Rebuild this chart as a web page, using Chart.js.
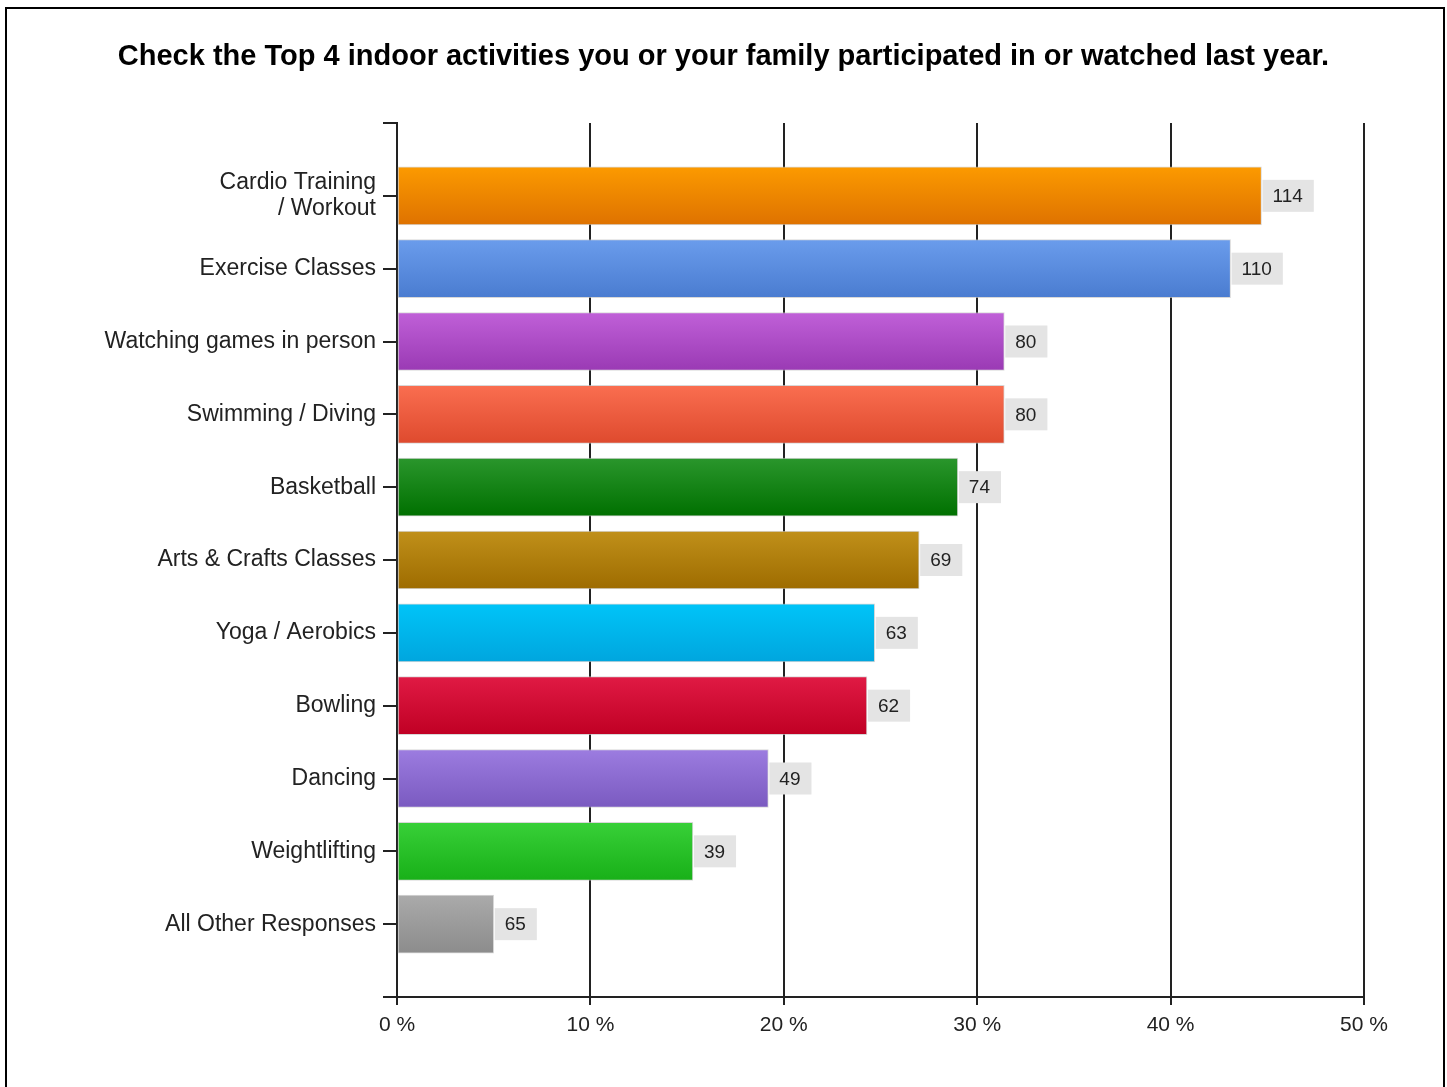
<!DOCTYPE html>
<html>
<head>
<meta charset="utf-8">
<title>Top 4 indoor activities</title>
<script src="https://cdn.jsdelivr.net/npm/chart.js@4"></script>
<style>
    html, body { margin: 0; padding: 0; background: #fff; overflow: hidden; }
    #wrap { position: relative; width: 1447px; height: 1087px; }
</style>
</head>
<body>
<div id="wrap"><canvas id="barChart" width="1447" height="1087"></canvas></div>
<script>
// Categories, top to bottom
const categories = [
    ['Cardio Training', '/ Workout'],
    'Exercise Classes',
    'Watching games in person',
    'Swimming / Diving',
    'Basketball',
    'Arts & Crafts Classes',
    'Yoga / Aerobics',
    'Bowling',
    'Dancing',
    'Weightlifting',
    'All Other Responses'
];

// Number of responses (shown in the grey boxes)
const counts = [114, 110, 80, 80, 74, 69, 63, 62, 49, 39, 65];

// Share of respondents in percent (bar length)
const percents = [44.7, 43.1, 31.4, 31.4, 29.0, 27.0, 24.7, 24.3, 19.2, 15.3, 5.0];

// x axis ticks
const xTicks = [0, 10, 20, 30, 40, 50];

// gradient colours, top / bottom of each bar
const topColors = ['#fc9a00', '#6a9cec', '#c060d8', '#fa6e50', '#2a962c', '#c0901a',
                   '#00c4f8', '#e01a44', '#9c7ce0', '#38d038', '#aaaaaa'];
const bottomColors = ['#de7200', '#4a7cd0', '#9a3ab4', '#de4a2e', '#007000', '#9e6c00',
                      '#00a6de', '#c00024', '#7a5ac0', '#18b018', '#8c8c8c'];

const BAR_H = 58;

// Gradient per bar, placed with the y scale
function barGradient(context) {
    const chart = context.chart;
    const i = context.dataIndex;
    const yScale = chart.scales.y;
    if (!yScale || i === undefined) return topColors[0];
    const yc = yScale.getPixelForValue(i);
    if (!isFinite(yc)) return topColors[i];
    const g = chart.ctx.createLinearGradient(0, yc - BAR_H / 2, 0, yc + BAR_H / 2);
    g.addColorStop(0, topColors[i]);
    g.addColorStop(1, bottomColors[i]);
    return g;
}

// Outer frame
const framePlugin = {
    id: 'frame',
    beforeDraw(chart) {
        const ctx = chart.ctx;
        ctx.save();
        ctx.fillStyle = '#fff';
        ctx.fillRect(0, 0, chart.width, chart.height);
        ctx.strokeStyle = '#000';
        ctx.lineWidth = 2;
        ctx.strokeRect(6, 8, 1438, 1200);
        ctx.restore();
    }
};

// Grey value boxes at the end of each bar
const valueBoxPlugin = {
    id: 'valueBoxes',
    afterDatasetsDraw(chart) {
        const ctx = chart.ctx;
        const meta = chart.getDatasetMeta(0);
        ctx.save();
        ctx.font = '19px "Liberation Sans", Arial, sans-serif';
        ctx.textBaseline = 'middle';
        ctx.textAlign = 'left';
        meta.data.forEach((bar, i) => {
            const txt = String(counts[i]);
            const w = ctx.measureText(txt).width + 21;
            const x = bar.x + 1;
            ctx.fillStyle = '#e4e4e4';
            ctx.fillRect(x, bar.y - 16, w, 32);
            ctx.fillStyle = '#222';
            ctx.fillText(txt, x + 10, bar.y + 1);
        });
        ctx.restore();
    }
};

const ctx = document.getElementById('barChart').getContext('2d');
const myBarChart = new Chart(ctx, {
    type: 'bar',
    data: {
        datasets: [{
            data: percents.map((p, i) => ({ x: p, y: i })),
            backgroundColor: barGradient,
            borderColor: 'rgba(200, 200, 200, 0.7)',
            borderWidth: 1,
            borderSkipped: false,
            barThickness: BAR_H
        }]
    },
    options: {
        indexAxis: 'y',
        responsive: false,
        animation: false,
        devicePixelRatio: 1,
        layout: { padding: { left: 83, right: 83, top: 0, bottom: 0 } },
        plugins: {
            legend: { display: false },
            tooltip: { enabled: false },
            title: {
                display: true,
                text: 'Check the Top 4 indoor activities you or your family participated in or watched last year.',
                color: '#000',
                font: { family: '"Liberation Sans", Arial, sans-serif', size: 29, weight: 'bold', lineHeight: 1.2 },
                padding: { top: 40, bottom: 48.2 }
            }
        },
        scales: {
            x: {
                type: 'linear',
                min: 0,
                max: 50,
                afterBuildTicks(scale) {
                    scale.ticks = xTicks.map(v => ({ value: v }));
                },
                afterFit(scale) { scale.height = 90; },
                ticks: {
                    color: '#222',
                    padding: 8,
                    font: { family: '"Liberation Sans", Arial, sans-serif', size: 21 },
                    callback: v => v + ' %'
                },
                grid: {
                    color: '#222',
                    lineWidth: 2,
                    tickLength: 8,
                    drawOnChartArea: true
                },
                border: { color: '#222', width: 2 }
            },
            y: {
                type: 'linear',
                reverse: true,
                offset: false,
                min: -1,
                max: categories.length,
                afterBuildTicks(scale) {
                    const t = [];
                    for (let v = -1; v <= categories.length; v++) t.push({ value: v });
                    scale.ticks = t;
                },
                afterFit(scale) { scale.width = 314; },
                ticks: {
                    color: '#222',
                    padding: 7,
                    autoSkip: false,
                    font: { family: '"Liberation Sans", Arial, sans-serif', size: 23, lineHeight: 1.15 },
                    callback: v => (v >= 0 && v < categories.length) ? categories[v] : ''
                },
                grid: {
                    color: '#222',
                    lineWidth: 2,
                    tickLength: 14,
                    offset: false,
                    drawOnChartArea: false
                },
                border: { color: '#222', width: 2 }
            }
        }
    },
    plugins: [framePlugin, valueBoxPlugin]
});
</script>
</body>
</html>
